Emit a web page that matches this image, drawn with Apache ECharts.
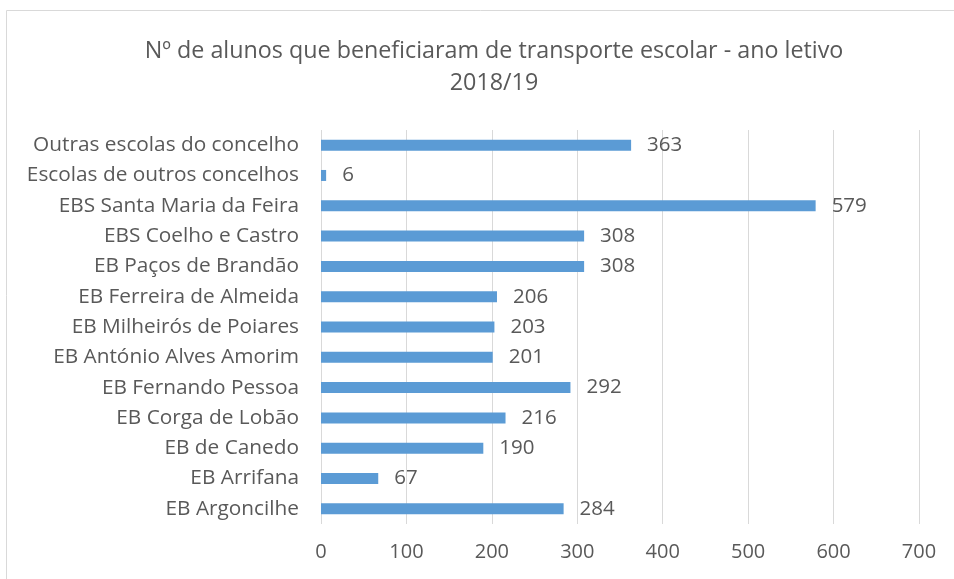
<!DOCTYPE html>
<html>
<head>
<meta charset="utf-8">
<script src="https://cdn.jsdelivr.net/npm/echarts@6/dist/echarts.min.js"></script>
<style>
html, body { margin: 0; padding: 0; background: #fff; }
#main { width: 954px; height: 579px; }
</style>
</head>
<body>
<div id="main"></div>
<script>
// categories from bottom to top
var escolas = [
    'EB Argoncilhe',
    'EB Arrifana',
    'EB de Canedo',
    'EB Corga de Lobão',
    'EB Fernando Pessoa',
    'EB António Alves Amorim',
    'EB Milheirós de Poiares',
    'EB Ferreira de Almeida',
    'EB Paços de Brandão',
    'EBS Coelho e Castro',
    'EBS Santa Maria da Feira',
    'Escolas de outros concelhos',
    'Outras escolas do concelho'
];
var alunos = [284, 67, 190, 216, 292, 201, 203, 206, 308, 308, 579, 6, 363];
var ticks = [0, 100, 200, 300, 400, 500, 600, 700];

var fonte = 'Open Sans';
var cinza = '#595959';

var myChart = echarts.init(document.getElementById('main'));
var option = {
    animation: false,
    textStyle: { fontFamily: fonte },
    title: {
        text: 'Nº de alunos que beneficiaram de transporte escolar - ano letivo\n2018/19',
        left: 489,
        top: 30,
        textAlign: 'center',
        textStyle: {
            fontFamily: fonte,
            fontSize: 23.3,
            fontWeight: 'normal',
            color: cinza,
            lineHeight: 32
        }
    },
    graphic: [{
        type: 'rect',
        shape: { x: 6.5, y: 10.5, width: 1000, height: 1000 },
        style: { fill: 'none', stroke: '#d9d9d9', lineWidth: 1 },
        silent: true
    }],
    grid: {
        left: 321,
        right: 35,
        top: 130,
        bottom: 55,
        containLabel: false
    },
    xAxis: {
        type: 'value',
        min: 0,
        max: 700,
        interval: 100,
        axisLine: { show: false },
        axisTick: { show: false },
        splitLine: { lineStyle: { color: '#d9d9d9', width: 1 } },
        axisLabel: {
            color: cinza,
            fontSize: 20,
            margin: 18,
            formatter: function (v) { return ticks.indexOf(v) >= 0 ? String(v) : ''; }
        }
    },
    yAxis: {
        type: 'category',
        data: escolas,
        axisLine: { show: false },
        axisTick: { show: false },
        axisLabel: { color: cinza, fontSize: 20.8, margin: 22 }
    },
    series: [{
        type: 'bar',
        data: alunos,
        barWidth: 11,
        itemStyle: { color: '#5b9bd5' },
        label: {
            show: true,
            position: 'right',
            distance: 16,
            color: cinza,
            fontSize: 20.5
        }
    }]
};
myChart.setOption(option);
</script>
</body>
</html>
